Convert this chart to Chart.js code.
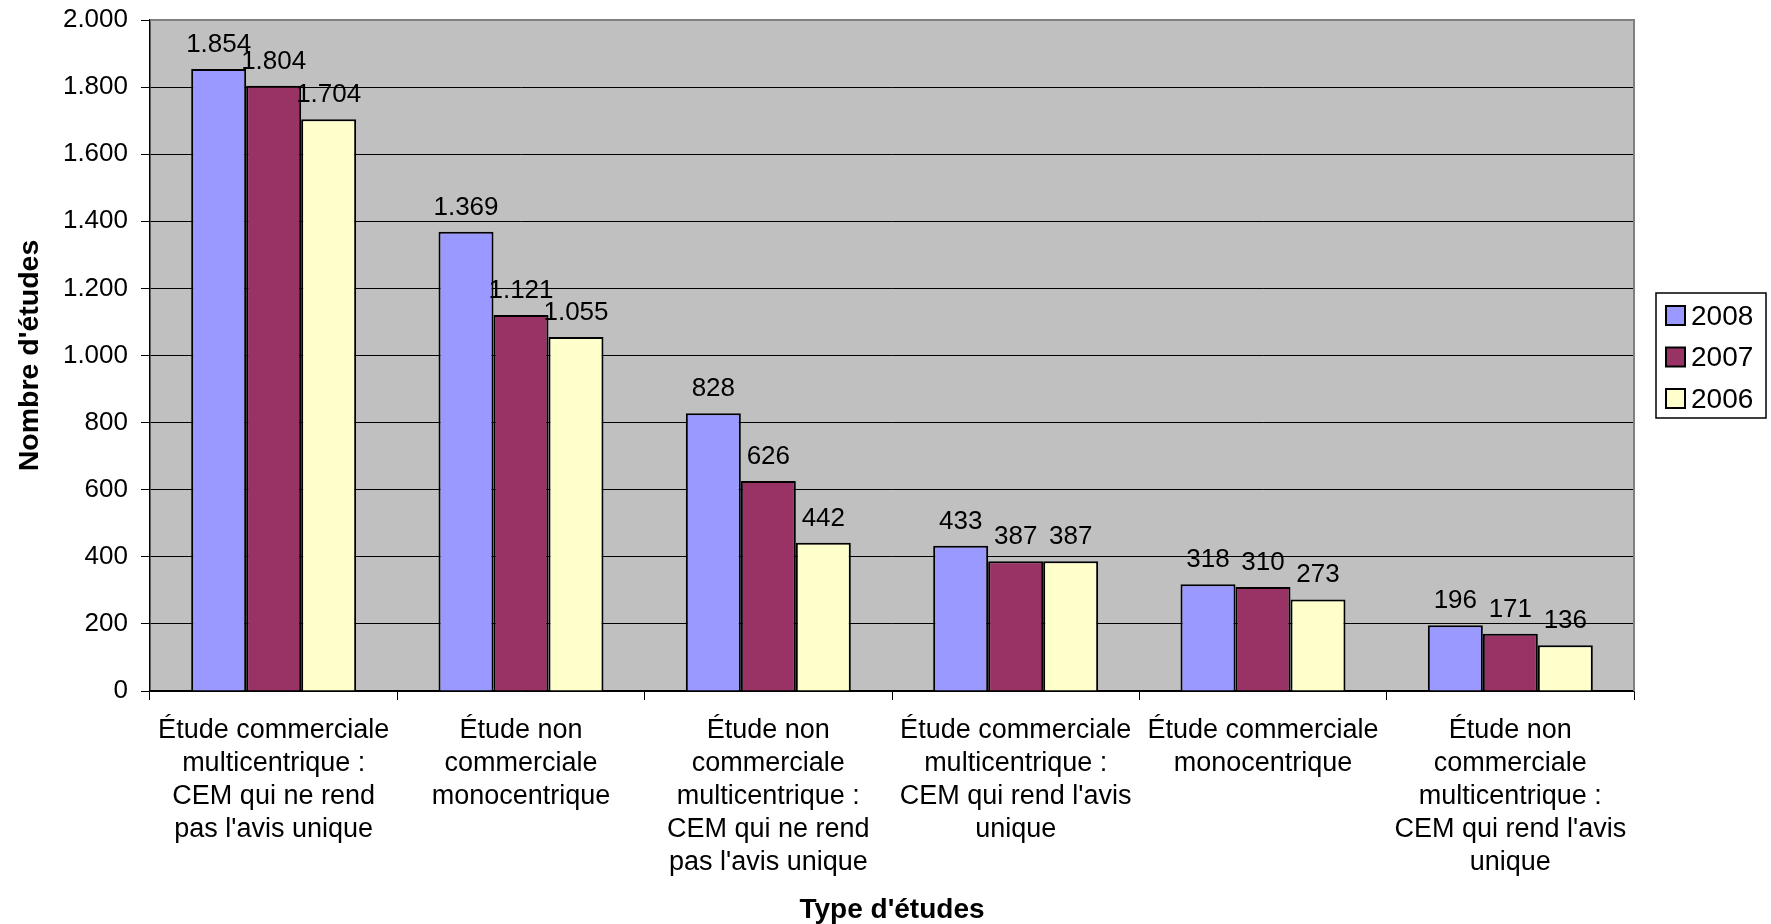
<!DOCTYPE html>
<html>
<head>
<meta charset="utf-8">
<script src="https://cdn.jsdelivr.net/npm/chart.js@4/dist/chart.umd.min.js"></script>
<style>
  html, body { margin: 0; padding: 0; background: #fff; }
  #wrap { width: 1771px; height: 924px; }
</style>
</head>
<body>
<div id="wrap"><canvas id="barChart"></canvas></div>
<script>
// categories (already wrapped the way the original shows them)
var categories = [
    ['Étude commerciale', 'multicentrique :', 'CEM qui ne rend', "pas l'avis unique"],
    ['Étude non', 'commerciale', 'monocentrique'],
    ['Étude non', 'commerciale', 'multicentrique :', 'CEM qui ne rend', "pas l'avis unique"],
    ['Étude commerciale', 'multicentrique :', "CEM qui rend l'avis", 'unique'],
    ['Étude commerciale', 'monocentrique'],
    ['Étude non', 'commerciale', 'multicentrique :', "CEM qui rend l'avis", 'unique']
]
var values2008 = [1854, 1369, 828, 433, 318, 196]
var values2007 = [1804, 1121, 626, 387, 310, 171]
var values2006 = [1704, 1055, 442, 387, 273, 136]
var seriesNames = ['2008', '2007', '2006']
var seriesColors = ['#9999FF', '#993366', '#FFFFCC']

var FONT = '"Liberation Sans", Arial, sans-serif'

function fmt(n) {
    // 1854 -> 1.854
    return String(n).replace(/\B(?=(\d{3})+(?!\d))/g, '.')
}

// grey plot background + frame
var plotBg = {
    id: 'plotBg',
    beforeDraw: function(chart) {
        var a = chart.chartArea, ctx = chart.ctx
        ctx.save()
        ctx.fillStyle = '#C0C0C0'
        ctx.fillRect(a.left, a.top, a.right - a.left, a.bottom - a.top)
        ctx.restore()
    },
    afterDatasetsDraw: function(chart) {
        var a = chart.chartArea, ctx = chart.ctx
        ctx.save()
        ctx.strokeStyle = '#808080'
        ctx.lineWidth = 2
        ctx.beginPath()
        ctx.moveTo(a.left, a.top)
        ctx.lineTo(a.right, a.top)
        ctx.lineTo(a.right, a.bottom)
        ctx.stroke()
        ctx.restore()
    }
}

// value labels above each bar
var barValues = {
    id: 'barValues',
    afterDatasetsDraw: function(chart) {
        var ctx = chart.ctx
        ctx.save()
        ctx.font = '26px ' + FONT
        ctx.fillStyle = '#000'
        ctx.textAlign = 'center'
        ctx.textBaseline = 'alphabetic'
        chart.data.datasets.forEach(function(ds, i) {
            chart.getDatasetMeta(i).data.forEach(function(bar, j) {
                ctx.fillText(fmt(ds.data[j]), bar.x, bar.y - 17)
            })
        })
        ctx.restore()
    }
}

// boxed legend on the right
var boxLegend = {
    id: 'boxLegend',
    afterDraw: function(chart) {
        var ctx = chart.ctx
        var x = 1656, y = 293, w = 110, h = 125
        ctx.save()
        ctx.fillStyle = '#fff'
        ctx.fillRect(x, y, w, h)
        ctx.strokeStyle = '#000'
        ctx.lineWidth = 1.5
        ctx.strokeRect(x, y, w, h)
        ctx.font = '28px ' + FONT
        ctx.textBaseline = 'middle'
        chart.data.datasets.forEach(function(ds, i) {
            var cy = 316 + i * 41.5
            ctx.fillStyle = ds.backgroundColor
            ctx.fillRect(1666, cy - 10, 19, 19)
            ctx.lineWidth = 2
            ctx.strokeRect(1666, cy - 10, 19, 19)
            ctx.fillStyle = '#000'
            ctx.fillText(ds.label, 1691, cy + 1)
        })
        ctx.restore()
    }
}

var datasets = [values2008, values2007, values2006].map(function(vals, i) {
    return {
        label: seriesNames[i],
        data: vals,
        backgroundColor: seriesColors[i],
        borderColor: '#000',
        borderWidth: 2,
        categoryPercentage: 0.667,
        barPercentage: 1.0
    }
})

var ctx = document.getElementById('barChart')
var myChart = new Chart(ctx, {
    type: 'bar',
    data: { labels: categories, datasets: datasets },
    plugins: [plotBg, barValues, boxLegend],
    options: {
        responsive: true,
        maintainAspectRatio: false,
        animation: false,
        layout: { padding: { left: 0, right: 137, top: 20, bottom: 0 } },
        plugins: {
            legend: { display: false },
            tooltip: { enabled: false }
        },
        scales: {
            x: {
                offset: true,
                grid: {
                    display: true,
                    offset: true,
                    drawOnChartArea: false,
                    drawTicks: true,
                    tickLength: 9,
                    color: '#000'
                },
                border: { display: true, color: '#000', width: 1.5 },
                ticks: {
                    color: '#000',
                    font: { family: FONT, size: 27, lineHeight: 1.22 },
                    maxRotation: 0,
                    autoSkip: false,
                    padding: 14
                },
                title: {
                    display: true,
                    text: "Type d'études",
                    color: '#000',
                    font: { family: FONT, size: 28, weight: 'bold', lineHeight: 0.95 },
                    padding: { top: 0, bottom: 0 }
                },
                afterFit: function(scale) { scale.height = 233 }
            },
            y: {
                min: 0,
                max: 2000,
                ticks: {
                    stepSize: 200,
                    color: '#000',
                    font: { family: FONT, size: 26, lineHeight: 1.0 },
                    padding: 13,
                    callback: function(v) { return fmt(v) }
                },
                grid: {
                    color: '#000',
                    lineWidth: 1,
                    tickLength: 9
                },
                border: { display: true, color: '#000', width: 1.5 },
                title: {
                    display: true,
                    text: "Nombre d'études",
                    color: '#000',
                    font: { family: FONT, size: 28.5, weight: 'bold' },
                    padding: { top: 13, bottom: 0 }
                },
                afterFit: function(scale) {
                    scale.width = 150
                    scale.paddingTop = 0
                    scale.paddingBottom = 0
                }
            }
        }
    }
})
</script>
</body>
</html>
